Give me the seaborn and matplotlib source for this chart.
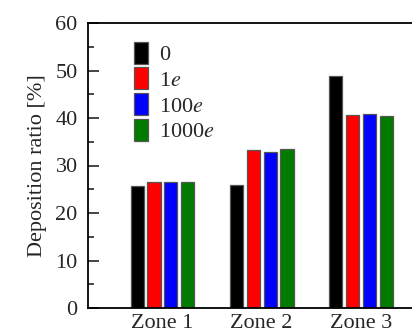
import matplotlib
matplotlib.use("Agg")
import matplotlib.pyplot as plt
import seaborn as sns
import pandas as pd
from matplotlib.ticker import MultipleLocator

# ---------------- Data ----------------
zones = ["Zone 1", "Zone 2", "Zone 3"]
series_labels = ["0", r"1$\it{e}$", r"100$\it{e}$", r"1000$\it{e}$"]
vals_0 = [25.6, 25.8, 48.9]
vals_1e = [26.6, 33.2, 40.6]
vals_100e = [26.5, 32.9, 40.9]
vals_1000e = [26.5, 33.4, 40.5]
colors = ["#000000", "#ff0000", "#0000ff", "#007b00"]

rows = []
for lab, vals in zip(series_labels, [vals_0, vals_1e, vals_100e, vals_1000e]):
    for z, v in zip(zones, vals):
        rows.append({"zone": z, "dose": lab, "ratio": v})
df = pd.DataFrame(rows)

# ---------------- Plot ----------------
sns.set_style("ticks")
plt.rcParams["font.family"] = ["Liberation Serif", "DejaVu Serif"]
plt.rcParams["mathtext.fontset"] = "stix"

fig = plt.figure(figsize=(4.12, 3.31), dpi=100)
ax = fig.add_axes([88 / 412, 23 / 331, 1 - 88 / 412, 285 / 331])

sns.barplot(data=df, x="zone", y="ratio", hue="dose", palette=colors,
            width=0.68, gap=0.22, edgecolor="#555555", linewidth=0.9,
            saturation=1, ax=ax)

ax.set_xlim(-0.75, 2.515)
ax.set_ylim(0, 60)
ax.yaxis.set_major_locator(MultipleLocator(10))
ax.yaxis.set_minor_locator(MultipleLocator(5))
ax.tick_params(axis="y", which="major", direction="in", length=8, width=1.2,
               labelsize=16, pad=7.5)
ax.tick_params(axis="y", which="minor", direction="in", length=4.5, width=1.2)
ax.tick_params(axis="x", length=0, labelsize=16, pad=4)
ax.set_xlabel("")
ax.set_ylabel("Deposition ratio [%]", fontsize=16, labelpad=6)

ax.spines["right"].set_visible(False)
for s in ["left", "top", "bottom"]:
    ax.spines[s].set_linewidth(1.3)
    ax.spines[s].set_color("black")

ax.legend(loc="upper left", bbox_to_anchor=(0.142, 0.935), frameon=False,
          fontsize=16, handlelength=0.62, handleheight=1.15, labelspacing=0.1,
          handletextpad=0.5, borderpad=0, borderaxespad=0)

fig.savefig("out.png", dpi=100)
